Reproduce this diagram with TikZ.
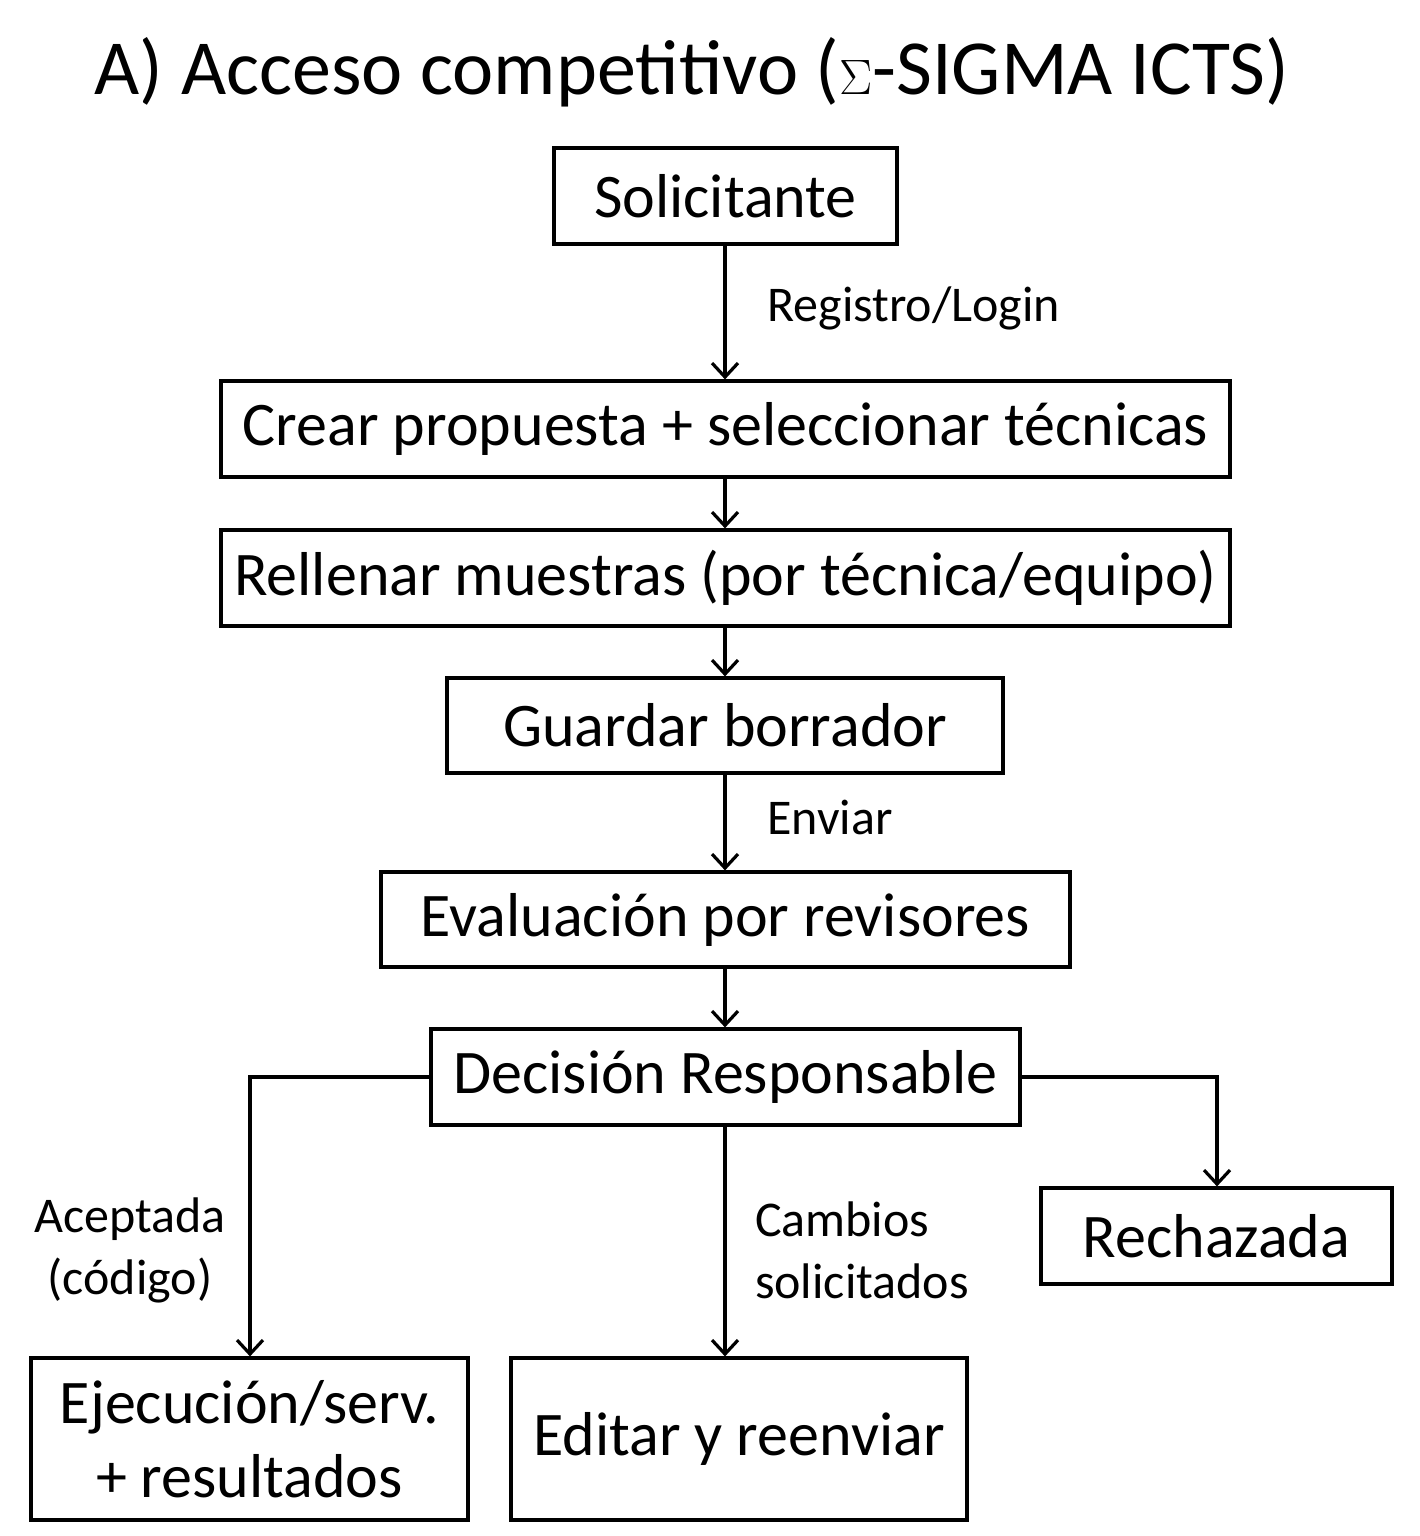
\documentclass[tikz,border=0pt]{standalone}
\usepackage{fontspec}
\setmainfont{Carlito}
\usetikzlibrary{arrows.meta}
\begin{document}
\begin{tikzpicture}[x=0.5pt,y=-0.5pt,
  box/.style={draw,line width=1.6pt,inner sep=0pt,font=\fontsize{31}{37}\selectfont,align=center},
  lab/.style={font=\fontsize{25}{31}\selectfont,align=left},
  arr/.style={line width=1.6pt,-{Straight Barb[length=7pt,width=13pt,line width=1.6pt]}}]
\useasboundingbox[fill=white] (0,0) rectangle (1419,1536);
\node[font=\fontsize{39}{45}\selectfont] (title) at (692,72) {A) Acceso competitivo ($\Sigma$-SIGMA ICTS)};
\node[box,minimum width=171.5pt,minimum height=48pt] (sol) at (725.5,196) {Solicitante};
\node[box,minimum width=504.5pt,minimum height=48pt] (crear) at (725.5,429) {Crear propuesta + seleccionar técnicas};
\node[box,minimum width=504.5pt,minimum height=48pt] (rell) at (725.5,578) {Rellenar muestras (por técnica/equipo)};
\node[box,minimum width=278pt,minimum height=47.5pt] (guard) at (725,725.5) {Guardar borrador};
\node[box,minimum width=344.5pt,minimum height=47.5pt] (eval) at (725.5,919.5) {Evaluación por revisores};
\node[box,minimum width=294.5pt,minimum height=48pt] (dec) at (725.5,1077) {Decisión Responsable};
\node[box,minimum width=175.5pt,minimum height=48pt] (rech) at (1216.5,1236) {Rechazada};
\node[box,minimum width=218.5pt,minimum height=81pt] (ejec) at (249.5,1439) {Ejecución/serv.\\+ resultados};
\node[box,minimum width=228pt,minimum height=81pt] (edit) at (739,1439) {Editar y reenviar};
\draw[arr] (sol.south -| 725,0) -- (crear.north -| 725,0) node[pos=0.47,right=17pt,lab] (l1) {Registro/Login};
\draw[arr] (crear.south -| 725,0) -- (rell.north -| 725,0);
\draw[arr] (rell.south -| 725,0) -- (guard.north -| 725,0);
\draw[arr] (guard.south -| 725,0) -- (eval.north -| 725,0) node[pos=0.45,right=17pt,lab] (l2) {Enviar};
\draw[arr] (eval.south -| 725,0) -- (dec.north -| 725,0);
\coordinate (cl) at (250,1077);
\coordinate (cr) at (1217,1077);
\draw[arr] (dec.west) -- (cl) -- (ejec.north -| cl);
\draw[arr] (dec.east) -- (cr) -- (rech.north -| cr);
\draw[arr] (dec.south -| 725,0) -- (edit.north -| 725,0);
\node[lab,align=center] (l3) at (130,1250) {Aceptada\\(código)};
\node[lab,anchor=west] (l4) at (748,1250) {Cambios\\solicitados};
\end{tikzpicture}
\end{document}
